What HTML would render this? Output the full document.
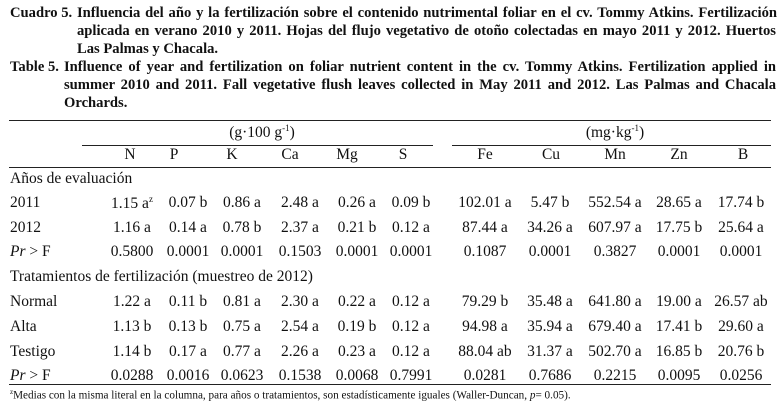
<!DOCTYPE html>
<html><head><meta charset="utf-8">
<style>
body{margin:0;background:#fff;}
#root{position:relative;width:781px;height:406px;overflow:hidden;font-family:"Liberation Serif",serif;color:#111;}
.t{position:absolute;font-weight:bold;font-size:14.6px;line-height:18px;white-space:nowrap;}
.j{text-align:justify;text-align-last:justify;white-space:normal;height:18px;overflow:visible;}
.c{position:absolute;font-size:15.5px;white-space:nowrap;transform:translateX(-50%);}
.l{position:absolute;font-size:15.5px;white-space:nowrap;}
.ln{position:absolute;height:1px;background:#222;}
sup{font-size:9px;}
</style></head><body>
<div id="root">
<div class="t" style="left:10px;top:4px;">Cuadro 5.</div>
<div class="t j" style="left:77px;top:4px;width:700px;">Influencia del año y la fertilización sobre el contenido nutrimental foliar en el cv. Tommy Atkins. Fertilización</div>
<div class="t j" style="left:77px;top:22px;width:699px;">aplicada en verano 2010 y 2011. Hojas del flujo vegetativo de otoño colectadas en mayo 2011 y 2012. Huertos</div>
<div class="t" style="left:77px;top:40px;">Las Palmas y Chacala.</div>
<div class="t" style="left:10px;top:58px;">Table 5.</div>
<div class="t j" style="left:64px;top:58px;width:712px;">Influence of year and fertilization on foliar nutrient content in the cv. Tommy Atkins. Fertilization applied in</div>
<div class="t j" style="left:64px;top:76px;width:712px;">summer 2010 and 2011. Fall vegetative flush leaves collected in May 2011 and 2012. Las Palmas and Chacala</div>
<div class="t" style="left:64px;top:94px;">Orchards.</div>

<div class="ln" style="left:9px;width:762px;top:120px;"></div>
<div class="ln" style="left:82px;width:351px;top:145px;"></div>
<div class="ln" style="left:452px;width:319px;top:145px;"></div>
<div class="ln" style="left:9px;width:762px;top:167px;"></div>
<div class="ln" style="left:9px;width:762px;top:384px;"></div>

<div class="c" style="left:262px;top:123px;">(g·100 g<sup>-1</sup>)</div>
<div class="c" style="left:615px;top:123px;">(mg·kg<sup>-1</sup>)</div>

<div class="l" style="left:10px;top:170px;">Años de evaluación</div>
<div class="l" style="left:10px;top:268px;">Tratamientos de fertilización (muestreo de 2012)</div>
<div class="l" style="left:10px;top:388px;font-size:11.2px;"><sup style="font-size:7px">z</sup>Medias con la misma literal en la columna, para años o tratamientos, son estadísticamente iguales (Waller-Duncan, <i>p</i>= 0.05).</div>
</div>
<script>
const columns=["N","P","K","Ca","Mg","S","Fe","Cu","Mn","Zn","B"];
const headX=[130,174,232,290,347,403,485,551,615,679,743];
const valX=[132,188,242,300,357,411,485,550,615,679,741];
const rowLabels=["2011","2012","<i>Pr</i> &gt; F","Normal","Alta","Testigo","<i>Pr</i> &gt; F"];
const rowTop=[194,219,243,293,318,343,367];
const r2011=["1.15 a<sup>z</sup>","0.07 b","0.86 a","2.48 a","0.26 a","0.09 b","102.01 a","5.47 b","552.54 a","28.65 a","17.74 b"];
const r2012=["1.16 a","0.14 a","0.78 b","2.37 a","0.21 b","0.12 a","87.44 a","34.26 a","607.97 a","17.75 b","25.64 a"];
const rPrY=["0.5800","0.0001","0.0001","0.1503","0.0001","0.0001","0.1087","0.0001","0.3827","0.0001","0.0001"];
const rNormal=["1.22 a","0.11 b","0.81 a","2.30 a","0.22 a","0.12 a","79.29 b","35.48 a","641.80 a","19.00 a","26.57 ab"];
const rAlta=["1.13 b","0.13 b","0.75 a","2.54 a","0.19 b","0.12 a","94.98 a","35.94 a","679.40 a","17.41 b","29.60 a"];
const rTestigo=["1.14 b","0.17 a","0.77 a","2.26 a","0.23 a","0.12 a","88.04 ab","31.37 a","502.70 a","16.85 b","20.76 b"];
const rPrT=["0.0288","0.0016","0.0623","0.1538","0.0068","0.7991","0.0281","0.7686","0.2215","0.0095","0.0256"];
const rows=[r2011,r2012,rPrY,rNormal,rAlta,rTestigo,rPrT];
const root=document.getElementById('root');
columns.forEach((c,i)=>{
  const d=document.createElement('div');
  d.className='c';d.style.left=headX[i]+'px';d.style.top='146px';d.textContent=c;
  
  
  root.appendChild(d);
});
rows.forEach((r,ri)=>{
  const lab=document.createElement('div');
  lab.className='l';lab.style.left='10px';lab.style.top=rowTop[ri]+'px';lab.innerHTML=rowLabels[ri];
  
  
  root.appendChild(lab);
  r.forEach((v,ci)=>{
    const d=document.createElement('div');
    d.className='c';d.style.left=valX[ci]+'px';d.style.top=rowTop[ri]+'px';d.innerHTML=v;
    
    
    root.appendChild(d);
  });
});
</script>
</body></html>
